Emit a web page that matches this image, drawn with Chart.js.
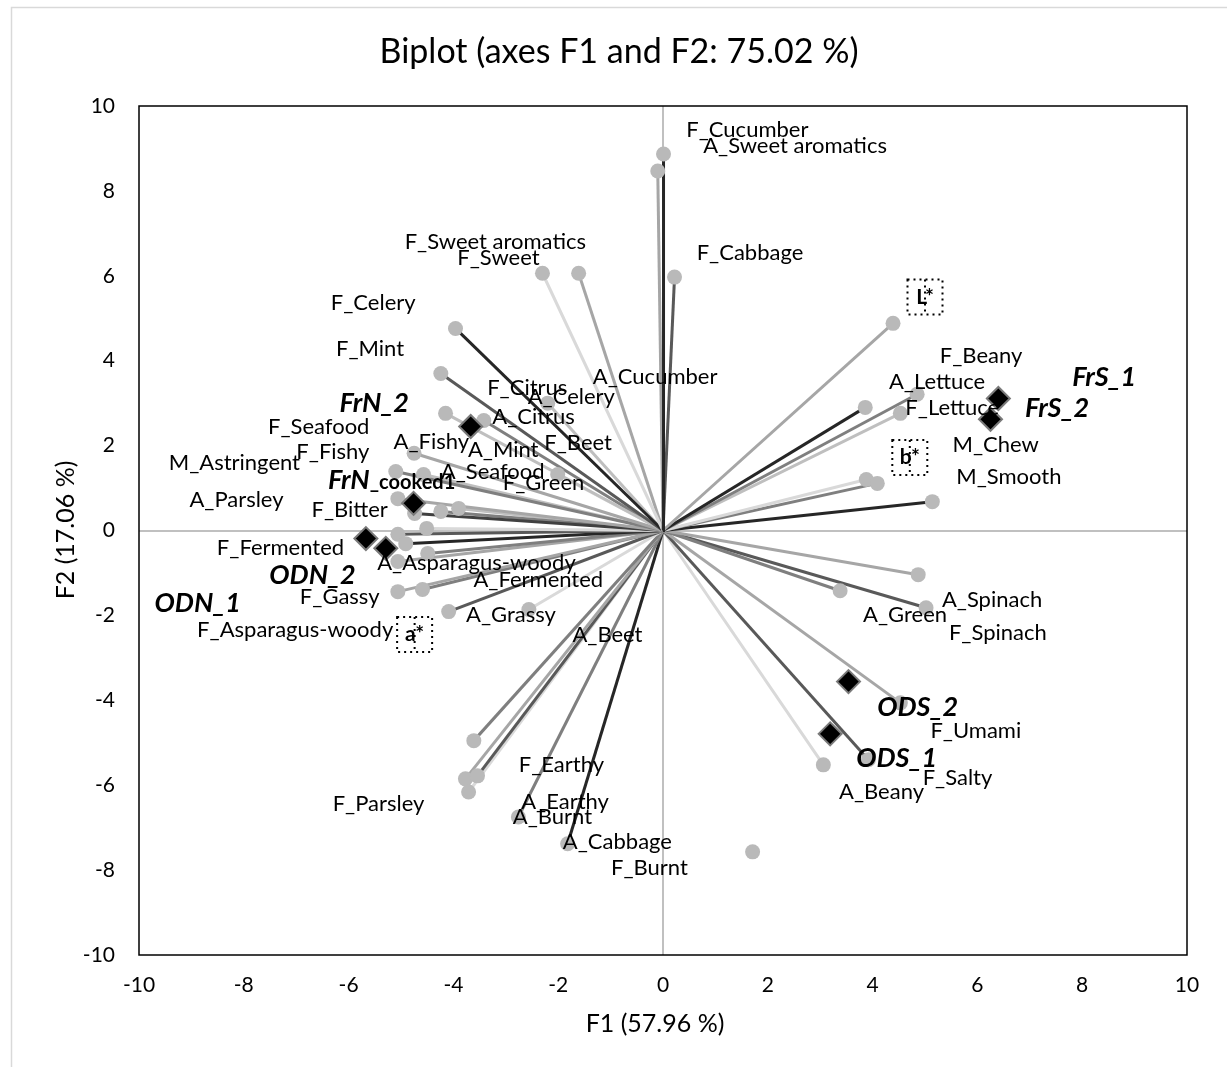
<!DOCTYPE html>
<html>
<head>
<meta charset="utf-8">
<script src="https://cdn.jsdelivr.net/npm/chart.js@4.4.1/dist/chart.umd.min.js"></script>
<style>
  html, body { margin: 0; padding: 0; background: #ffffff; }
  #wrap { position: relative; width: 1227px; height: 1067px; }
</style>
</head>
<body>
<div id="wrap"><canvas id="biplot" width="1227" height="1067"></canvas></div>
<script>
// ---- texts and ticks ----
const chartTitle = 'Biplot (axes F1 and F2: 75.02 %)';
const axisTitleX = 'F1 (57.96 %)';
const axisTitleY = 'F2 (17.06 %)';
const tickValues = [-10, -8, -6, -4, -2, 0, 2, 4, 6, 8, 10];

// ---- variable loadings (F1, F2) ----
const varF1 = [0.01, -0.10, 0.22, -2.30, -1.61, -3.96, -4.24, -4.15, -3.42, -2.20,
               -4.75, -5.10, -4.57, -2.01, -5.06, -4.74, -4.24, -3.90, -4.51, -5.06,
               -4.91, -4.49, -5.06, -5.06, -4.59, -4.09, -2.56, -3.61, -3.77, -3.54,
               -3.71, -2.76, -1.82, 1.71, 4.39, 3.86, 4.85, 4.53, 3.88, 4.09,
               5.14, 4.87, 3.38, 5.02, 4.53, 3.92, 3.06];
const varF2 = [8.87, 8.47, 5.97, 6.06, 6.06, 4.76, 3.70, 2.76, 2.59, 3.00,
               1.82, 1.39, 1.32, 1.32, 0.75, 0.40, 0.45, 0.52, 0.05, -0.09,
               -0.31, -0.54, -0.73, -1.44, -1.39, -1.91, -1.86, -4.95, -5.85, -5.78,
               -6.16, -6.75, -7.38, -7.57, 4.88, 2.90, 3.21, 2.76, 1.20, 1.11,
               0.68, -1.04, -1.42, -1.82, -4.06, -5.40, -5.52];
// grey shade of each ray from the origin (null: point without a ray)
const rayShade = ['#262626', '#a6a6a6', '#595959', '#d9d9d9', '#a6a6a6', '#262626', '#595959', '#bfbfbf', '#7f7f7f', '#bfbfbf',
                  '#a6a6a6', '#7f7f7f', '#bfbfbf', '#d9d9d9', '#a6a6a6', '#404040', '#7f7f7f', '#bfbfbf', '#d9d9d9', '#595959',
                  '#262626', '#7f7f7f', '#a6a6a6', '#a6a6a6', '#7f7f7f', '#595959', '#d9d9d9', '#7f7f7f', '#a6a6a6', '#595959',
                  '#d9d9d9', '#7f7f7f', '#262626', null, '#a6a6a6', '#262626', '#7f7f7f', '#bfbfbf', '#d9d9d9', '#7f7f7f',
                  '#262626', '#a6a6a6', '#7f7f7f', '#595959', '#a6a6a6', '#595959', '#d9d9d9'];

// ---- variable labels and where they sit (in F1/F2 units) ----
const varLabel = ['F_Cucumber', 'A_Sweet aromatics', 'F_Sweet aromatics', 'F_Sweet', 'F_Cabbage',
                  'F_Celery', 'F_Mint', 'A_Cucumber', 'F_Citrus', 'A_Celery', 'A_Citrus',
                  'F_Seafood', 'F_Fishy', 'A_Fishy', 'A_Mint', 'F_Beet', 'M_Astringent',
                  'A_Seafood', 'F_Green', 'A_Parsley', 'F_Bitter', 'F_Fermented',
                  'A_Asparagus-woody', 'A_Fermented', 'F_Gassy', 'A_Grassy', 'F_Asparagus-woody',
                  'A_Beet', 'F_Earthy', 'F_Parsley', 'A_Earthy', 'A_Burnt', 'A_Cabbage', 'F_Burnt',
                  'F_Beany', 'A_Lettuce', 'F_Lettuce', 'M_Chew', 'M_Smooth', 'A_Spinach',
                  'A_Green', 'F_Spinach', 'F_Umami', 'F_Salty', 'A_Beany'];
const varLabelF1 = [1.61, 2.52, -3.20, -3.14, 1.66, -5.53, -5.59, -0.15, -2.59, -1.75, -2.47,
                    -6.57, -6.30, -4.42, -3.05, -1.62, -8.18, -3.25, -2.28, -8.14, -5.98, -7.30,
                    -3.56, -2.38, -6.17, -2.90, -7.02, -1.06, -1.94, -5.43, -1.87, -2.11, -0.87, -0.26,
                    6.07, 5.23, 5.52, 6.35, 6.60, 6.28, 4.62, 6.39, 5.97, 5.62, 4.17];
const varLabelF2 = [9.44, 9.06, 6.80, 6.42, 6.54, 5.36, 4.28, 3.62, 3.36, 3.14, 2.68,
                    2.43, 1.85, 2.08, 1.90, 2.06, 1.59, 1.38, 1.12, 0.72, 0.48, -0.41,
                    -0.77, -1.17, -1.57, -1.99, -2.34, -2.46, -5.52, -6.44, -6.40, -6.75, -7.34, -7.95,
                    4.11, 3.50, 2.89, 2.01, 1.26, -1.64, -1.99, -2.41, -4.72, -5.83, -6.16];

// ---- colour coordinates (boxed labels) ----
const colorLabel = ['L*', 'b*', 'a*'];
const colorLabelF1 = [5.00, 4.71, -4.74];
const colorLabelF2 = [5.50, 1.72, -2.45];

// ---- observation scores ----
const obsMain = ['FrS_1', 'FrS_2', 'FrN_2', 'FrN', 'ODN_1', 'ODN_2', 'ODS_1', 'ODS_2'];
const obsSub  = ['', '', '', '_cooked1', '', '', '', ''];
const obsF1 = [6.40, 6.25, -3.67, -4.76, -5.67, -5.29, 3.19, 3.54];
const obsF2 = [3.11, 2.62, 2.45, 0.64, -0.19, -0.42, -4.79, -3.56];
const obsLabelF1 = [8.42, 7.52, -5.51, -5.18, -8.88, -6.69, 4.46, 4.86];
const obsLabelF2 = [3.62, 2.89, 3.00, 1.19, -1.71, -1.05, -5.36, -4.16];

const FONT = 'Lato';

// ---- datasets ----
const datasets = [];
varF1.forEach((f1, i) => {
  if (!rayShade[i]) return;
  datasets.push({
    type: 'line',
    data: [{ x: 0, y: 0 }, { x: f1, y: varF2[i] }],
    borderColor: rayShade[i],
    borderWidth: 3,
    pointRadius: 0,
    fill: false,
    tension: 0,
    order: 3
  });
});
datasets.push({
  type: 'scatter',
  data: varF1.map((f1, i) => ({ x: f1, y: varF2[i] })),
  pointStyle: 'circle',
  pointRadius: 7.5,
  backgroundColor: '#b9b9b9',
  borderWidth: 0,
  order: 2
});
datasets.push({
  type: 'scatter',
  data: obsF1.map((f1, i) => ({ x: f1, y: obsF2[i] })),
  pointStyle: 'rectRot',
  pointRadius: 11.5,
  backgroundColor: '#000000',
  borderColor: '#7a7a7a',
  borderWidth: 2,
  order: 1
});

// ---- texts, frame and titles ----
const biplotText = {
  id: 'biplotText',
  afterDatasetsDraw(chart) {
    const { ctx, scales: { x, y } } = chart;
    ctx.save();
    ctx.fillStyle = '#000';
    ctx.textAlign = 'center';
    ctx.textBaseline = 'middle';

    ctx.font = `22px ${FONT}`;
    varLabel.forEach((t, i) => {
      ctx.fillText(t, x.getPixelForValue(varLabelF1[i]), y.getPixelForValue(varLabelF2[i]));
    });

    colorLabel.forEach((t, i) => {
      const cx = x.getPixelForValue(colorLabelF1[i]);
      const cy = y.getPixelForValue(colorLabelF2[i]);
      ctx.font = `bold 21px ${FONT}`;
      ctx.fillText(t, cx, cy);
      ctx.save();
      ctx.setLineDash([2, 4]);
      ctx.lineWidth = 2;
      ctx.strokeStyle = '#000';
      ctx.strokeRect(cx - 17.5, cy - 17.5, 35, 35);
      ctx.beginPath();
      ctx.moveTo(cx, cy - 17.5);
      ctx.lineTo(cx, cy + 17.5);
      ctx.stroke();
      ctx.restore();
    });

    obsMain.forEach((t, i) => {
      const cx = x.getPixelForValue(obsLabelF1[i]);
      const cy = y.getPixelForValue(obsLabelF2[i]);
      const mainFont = `italic bold 27px ${FONT}`;
      const subFont = `bold 20px ${FONT}`;
      ctx.font = mainFont;
      const w1 = ctx.measureText(t).width;
      ctx.font = subFont;
      const w2 = obsSub[i] ? ctx.measureText(obsSub[i]).width : 0;
      const left = cx - (w1 + w2) / 2;
      ctx.textAlign = 'left';
      ctx.font = mainFont;
      ctx.fillText(t, left, cy);
      if (obsSub[i]) {
        ctx.font = subFont;
        ctx.fillText(obsSub[i], left + w1, cy + 3);
      }
      ctx.textAlign = 'center';
    });
    ctx.restore();
  },
  afterDraw(chart) {
    const { ctx, chartArea: a } = chart;
    ctx.save();
    // outer chart border
    ctx.strokeStyle = '#d9d9d9';
    ctx.lineWidth = 1.5;
    ctx.strokeRect(11.5, 7.5, 1400, 1400);
    // plot frame
    ctx.strokeStyle = '#000';
    ctx.lineWidth = 1.5;
    ctx.strokeRect(a.left, a.top, a.right - a.left, a.bottom - a.top);
    // titles
    ctx.fillStyle = '#000';
    ctx.textAlign = 'center';
    ctx.textBaseline = 'middle';
    ctx.font = `34px ${FONT}`;
    ctx.fillText(chartTitle, 619, 52);
    ctx.font = `25px ${FONT}`;
    ctx.fillText(axisTitleX, 655, 1024);
    ctx.translate(66, 530);
    ctx.rotate(-Math.PI / 2);
    ctx.fillText(axisTitleY, 0, 0);
    ctx.restore();
  }
};

function axisConfig(isX) {
  return {
    type: 'linear',
    min: -10,
    max: 10,
    afterBuildTicks: s => { s.ticks = tickValues.map(v => ({ value: v })); },
    grid: {
      drawTicks: false,
      color: c => (c.tick && c.tick.value === 0 ? '#c0c0c0' : 'rgba(0,0,0,0)'),
      lineWidth: 2
    },
    border: { display: false },
    ticks: {
      padding: isX ? 18 : 24,
      autoSkip: false,
      maxRotation: 0,
      color: '#000',
      font: { family: FONT, size: 21 }
    },
    afterFit: s => { if (isX) s.height = 112; else s.width = 139; }
  };
}

function draw() {
  new Chart(document.getElementById('biplot'), {
    type: 'scatter',
    data: { datasets },
    options: {
      responsive: false,
      animation: false,
      events: [],
      layout: { padding: { top: 106, right: 40, left: 0, bottom: 0 } },
      plugins: { legend: { display: false }, tooltip: { enabled: false }, title: { display: false } },
      scales: { x: axisConfig(true), y: axisConfig(false) }
    },
    plugins: [biplotText]
  });
}

Promise.all([
  document.fonts.load(`22px ${FONT}`),
  document.fonts.load(`bold 21px ${FONT}`),
  document.fonts.load(`italic bold 27px ${FONT}`)
]).then(draw, draw);
</script>
</body>
</html>
